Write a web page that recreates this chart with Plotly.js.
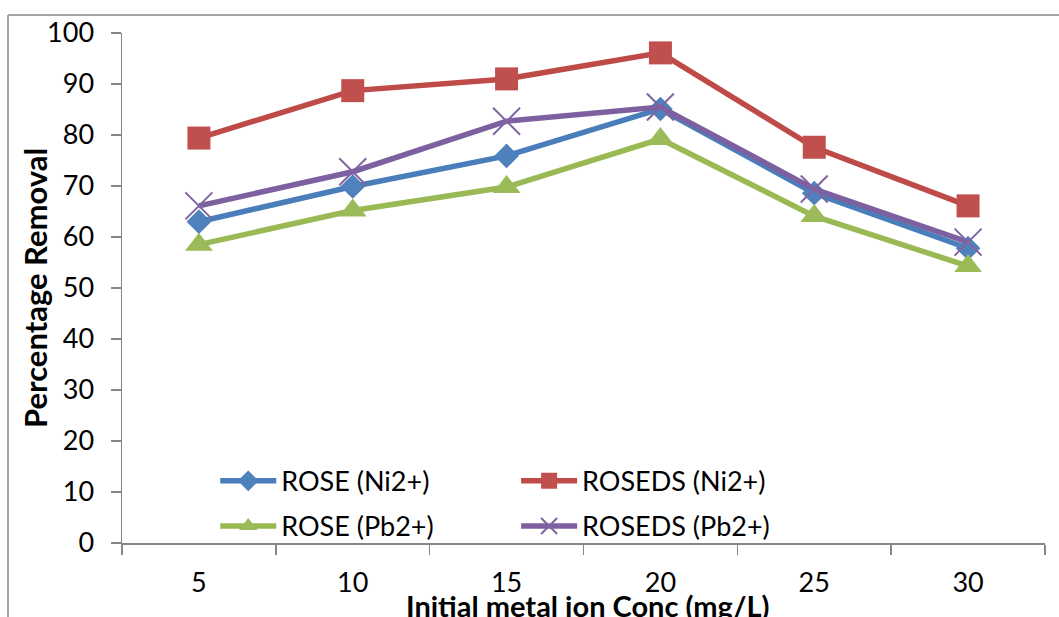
<!DOCTYPE html>
<html>
<head>
<meta charset="utf-8">
<script src="https://cdn.plot.ly/plotly-3.0.1.min.js"></script>
<style>
  html, body { margin: 0; padding: 0; background: #ffffff; }
  #chart { width: 1059px; height: 617px; }
</style>
</head>
<body>
<div id="chart"></div>
<script>
// ---- data ----
const categories = ['5', '10', '15', '20', '25', '30'];
const seriesNames = ['ROSE (Ni2+)', 'ROSEDS (Ni2+)', 'ROSE (Pb2+)', 'ROSEDS (Pb2+)'];
const roseNi   = [63.0, 69.9, 75.9, 85.1, 68.6, 57.8];
const rosedsNi = [79.4, 88.7, 91.0, 96.1, 77.6, 66.1];
const rosePb   = [58.5, 65.2, 69.8, 79.2, 64.1, 54.3];
const rosedsPb = [66.1, 72.8, 82.7, 85.5, 69.4, 59.0];
const yTicks = [0, 10, 20, 30, 40, 50, 60, 70, 80, 90, 100];
const xTitle = 'Initial metal ion Conc (mg/L)';
const yTitle = 'Percentage Removal';

const FONT = 'Lato, Carlito, Calibri, "Open Sans", sans-serif';

function mk(name, y, lineColor, markerColor, symbol, size, legend, group, xMarker) {
  return {
    type: 'scatter', mode: 'lines+markers',
    x: categories, y: y, name: name,
    legend: legend, legendgroup: group,
    line: { color: lineColor, width: 5.5 },
    marker: xMarker
      ? { symbol: symbol, size: size, color: markerColor, line: { color: markerColor, width: 2 } }
      : { symbol: symbol, size: size, color: markerColor, line: { width: 0 } },
    hoverinfo: 'x+y+name'
  };
}

const traces = [
  mk(seriesNames[0], roseNi,   '#4A7EBB', '#4F81BD', 'diamond',     19, 'legend',  'a', false),
  mk(seriesNames[1], rosedsNi, '#BE4B48', '#C0504D', 'square',      23, 'legend2', 'b', false),
  mk(seriesNames[2], rosePb,   '#98B954', '#9BBB59', 'triangle-up', 24, 'legend',  'c', false),
  mk(seriesNames[3], rosedsPb, '#7D60A0', '#8064A2', 'x-thin-open', 27, 'legend2', 'd', true)
];

const axisGrey = '#868686';
const frameGrey = '#a6a6a6';

const layout = {
  width: 1059, height: 617,
  margin: { l: 122, r: 14, t: 33, b: 74, pad: 0 },
  paper_bgcolor: '#ffffff', plot_bgcolor: '#ffffff',
  font: { family: FONT, color: '#000000', size: 27 },
  showlegend: true,
  xaxis: {
    type: 'category', categoryorder: 'array', categoryarray: categories,
    range: [-0.5, 5.5], tickson: 'boundaries',
    ticks: 'outside', ticklen: 10, tickwidth: 1.5, tickcolor: axisGrey,
    showline: true, linecolor: axisGrey, linewidth: 1.5,
    showgrid: false, zeroline: false,
    tickfont: { family: FONT, size: 27, color: '#000000' },
    ticklabelstandoff: 15,
    fixedrange: true
  },
  yaxis: {
    range: [0, 100], tickmode: 'array', tickvals: yTicks, ticktext: yTicks.map(String),
    ticks: 'outside', ticklen: 10, tickwidth: 1.5, tickcolor: axisGrey,
    showline: true, linecolor: axisGrey, linewidth: 1.5,
    showgrid: false, zeroline: false,
    tickfont: { family: FONT, size: 27, color: '#000000' },
    ticklabelstandoff: 11,
    fixedrange: true
  },
  annotations: [
    { text: yTitle, xref: 'paper', yref: 'paper', x: -0.0943, y: 0.5,
      xanchor: 'center', yanchor: 'middle', textangle: -90, showarrow: false,
      font: { family: FONT, size: 31, weight: 'bold', color: '#000000' } },
    { text: xTitle, xref: 'paper', yref: 'paper', x: 0.504, y: -0.0843,
      xanchor: 'center', yanchor: 'top', showarrow: false,
      font: { family: FONT, size: 29, weight: 'bold', color: '#000000' } }
  ],
  legend: {
    x: 0.101, y: 0.169, xanchor: 'left', yanchor: 'top', orientation: 'v',
    bgcolor: 'rgba(0,0,0,0)', borderwidth: 0,
    font: { family: FONT, size: 27, color: '#000000' },
    itemwidth: 56, tracegroupgap: 7, traceorder: 'grouped'
  },
  legend2: {
    x: 0.427, y: 0.169, xanchor: 'left', yanchor: 'top', orientation: 'v',
    bgcolor: 'rgba(0,0,0,0)', borderwidth: 0,
    font: { family: FONT, size: 27, color: '#000000' },
    itemwidth: 56, tracegroupgap: 7, traceorder: 'grouped'
  },
  shapes: [
    { type: 'line', xref: 'paper', yref: 'paper', x0: -0.1235, x1: -0.1235, y0: -0.16, y1: 1.0353,
      line: { color: frameGrey, width: 2 } },
    { type: 'line', xref: 'paper', yref: 'paper', x0: -0.1235, x1: 1.02, y0: 1.0353, y1: 1.0353,
      line: { color: frameGrey, width: 2 } }
  ]
};

Plotly.newPlot('chart', traces, layout, { displayModeBar: false, staticPlot: true });
</script>
</body>
</html>
